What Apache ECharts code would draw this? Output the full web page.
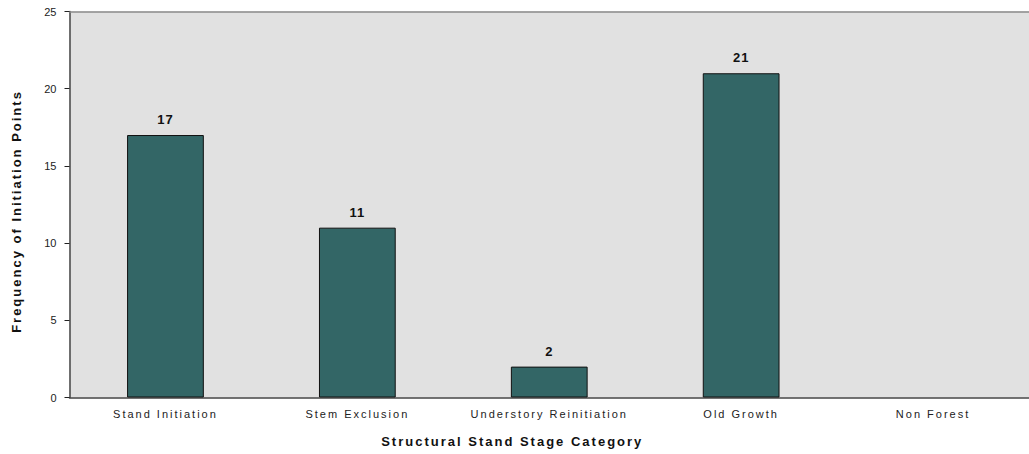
<!DOCTYPE html>
<html>
<head>
<meta charset="utf-8">
<script src="https://cdn.jsdelivr.net/npm/echarts@6/dist/echarts.min.js"></script>
<style>
  html, body { margin: 0; padding: 0; background: #fff; }
  #chart { width: 1029px; height: 454px; }
  /* spaced-out lettering like the original */
  #chart text[style*="Arial"] { letter-spacing: 2px; }
  #chart text[style*="Helvetica"] { letter-spacing: 1px; }
</style>
</head>
<body>
<div id="chart"></div>
<script>
const categories = ["Stand Initiation", "Stem Exclusion", "Understory Reinitiation", "Old Growth", "Non Forest"];
const frequency = [17, 11, 2, 21, null];
const yTicks = [0, 5, 10, 15, 20, 25];

const chart = echarts.init(document.getElementById("chart"), null, { renderer: "svg" });

const option = {
  animation: false,
  backgroundColor: "#ffffff",
  grid: {
    left: 69.5,
    top: 11.5,
    bottom: 56.5,
    right: -4.5,
    show: true,
    backgroundColor: "#e1e1e1",
    borderWidth: 0,
  },
  xAxis: [
    {
      type: "category",
      data: categories,
      axisLine: { lineStyle: { color: "#444", width: 1.5 } },
      axisTick: { length: 5, lineStyle: { color: "#222" } },
      axisLabel: {
        margin: 11,
        fontSize: 11,
        color: "#222",
        fontFamily: "Liberation Sans, Arial",
      },
      name: "Structural Stand Stage Category",
      nameLocation: "middle",
      nameGap: 37,
      nameTextStyle: {
        fontSize: 13,
        fontWeight: "bold",
        color: "#111",
        fontFamily: "Liberation Sans, Arial",
        padding: [0, 74, 0, 0],
      },
    },
    {
      // grey top edge of the plot
      type: "category",
      position: "top",
      data: categories,
      axisLine: { lineStyle: { color: "#8a8a8a", width: 1.5 } },
      axisTick: { show: false },
      axisLabel: { show: false },
    },
  ],
  yAxis: {
    type: "value",
    min: yTicks[0],
    max: yTicks[yTicks.length - 1],
    interval: 5,
    splitLine: { show: false },
    axisLine: { show: true, lineStyle: { color: "#444", width: 1.5 } },
    axisTick: { show: true, length: 5, lineStyle: { color: "#222" } },
    axisLabel: {
      margin: 13,
      fontSize: 11,
      color: "#222",
      fontFamily: "Liberation Sans",
    },
    name: "Frequency of Initiation Points",
    nameLocation: "middle",
    nameGap: 47,
    nameTextStyle: {
      fontSize: 13,
      fontWeight: "bold",
      color: "#111",
      fontFamily: "Liberation Sans, Arial",
      padding: [0, 14, 0, 0],
    },
  },
  series: [
    {
      type: "bar",
      data: frequency,
      barWidth: "40%",
      itemStyle: { color: "#336666", borderColor: "#111", borderWidth: 1 },
      label: {
        show: true,
        position: "top",
        distance: 9,
        fontSize: 13,
        fontWeight: "bold",
        color: "#111",
        fontFamily: "Liberation Sans, Helvetica",
      },
    },
  ],
};

chart.setOption(option);
</script>
</body>
</html>
